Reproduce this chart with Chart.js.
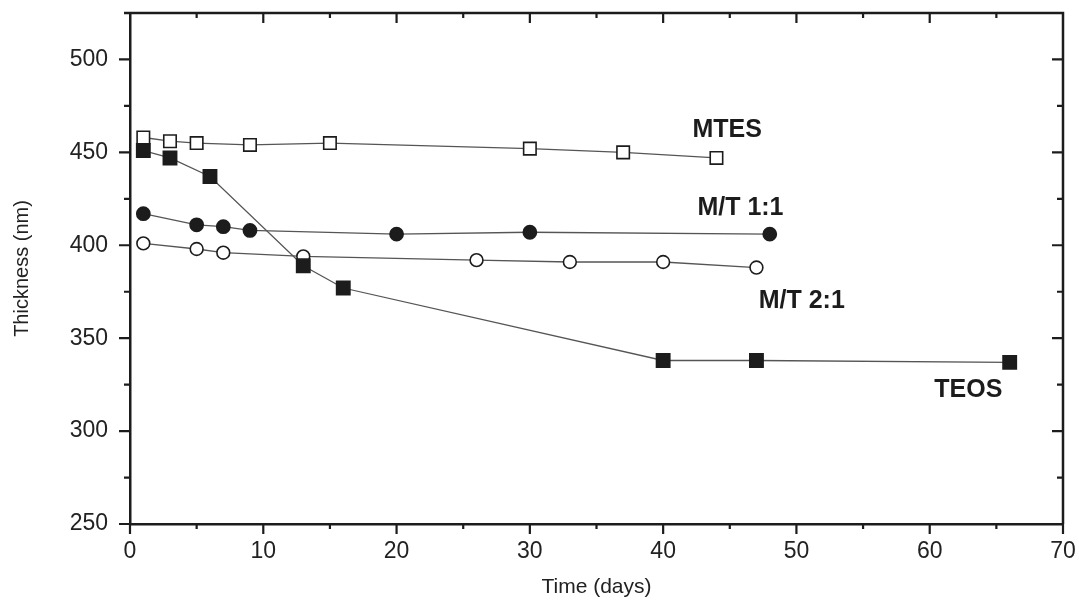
<!DOCTYPE html>
<html>
<head>
<meta charset="utf-8">
<script src="https://cdn.jsdelivr.net/npm/chart.js@4/dist/chart.umd.min.js"></script>
<style>
  html, body { margin: 0; padding: 0; background: #fff; }
  canvas { display: block; }
</style>
</head>
<body>
<canvas id="grafico" width="1079" height="600"></canvas>
<script>
// Datos (días, espesor en nm)
const mtesDias = [1, 3, 5, 9, 15, 30, 37, 44];
const mtesEspesor = [458, 456, 455, 454, 455, 452, 450, 447];

const teosDias = [1, 3, 6, 13, 16, 40, 47, 66];
const teosEspesor = [451, 447, 437, 389, 377, 338, 338, 337];

const mt11Dias = [1, 5, 7, 9, 20, 30, 48];
const mt11Espesor = [417, 411, 410, 408, 406, 407, 406];

const mt21Dias = [1, 5, 7, 13, 26, 33, 40, 47];
const mt21Espesor = [401, 398, 396, 394, 392, 391, 391, 388];

const etiquetasSeries = ['MTES', 'M/T 1:1', 'M/T 2:1', 'TEOS'];

const tinta = '#1c1c1c';
const fuente = '"Liberation Sans", Arial, sans-serif';

function puntos(xs, ys) {
    return xs.map((x, i) => ({ x: x, y: ys[i] }));
}

function serie(nombre, xs, ys, estilo, relleno, radio) {
    return {
        label: nombre,
        data: puntos(xs, ys),
        borderColor: '#555',
        borderWidth: 1.3,
        pointStyle: estilo,
        pointRadius: radio,
        pointBackgroundColor: relleno,
        pointBorderColor: tinta,
        pointBorderWidth: 1.6,
        tension: 0
    };
}

// Rótulos de las series, anclados en coordenadas de datos
const posRotulos = [
    { x: 44.8, y: 458 },
    { x: 45.8, y: 416.5 },
    { x: 50.4, y: 366.4 },
    { x: 62.9, y: 318.4 }
];

const rotulos = {
    id: 'rotulos',
    afterDatasetsDraw(chart) {
        const { ctx, scales } = chart;
        ctx.save();
        ctx.fillStyle = tinta;
        ctx.font = 'bold 25px ' + fuente;
        ctx.textAlign = 'center';
        ctx.textBaseline = 'alphabetic';
        etiquetasSeries.forEach((t, i) => {
            const p = posRotulos[i];
            ctx.fillText(t, scales.x.getPixelForValue(p.x), scales.y.getPixelForValue(p.y));
        });
        ctx.restore();
    }
};

// Marco superior/derecho y marcas de graduación en los cuatro lados
const marco = {
    id: 'marco',
    afterDraw(chart) {
        const { ctx, chartArea: a, scales } = chart;
        ctx.save();
        ctx.strokeStyle = tinta;
        ctx.lineWidth = 2.5;
        ctx.beginPath();
        ctx.moveTo(a.left - 6, a.top);
        ctx.lineTo(a.right, a.top);
        ctx.lineTo(a.right, a.bottom);
        ctx.stroke();

        ctx.lineWidth = 2.2;
        ctx.beginPath();
        scales.x.ticks.forEach(t => {
            const px = scales.x.getPixelForValue(t.value);
            const mayor = t.value % 10 === 0;
            const l = mayor ? 10 : 5;
            ctx.moveTo(px, a.bottom);
            ctx.lineTo(px, a.bottom + l);
            if (t.value > 0 && t.value < 70) {
                ctx.moveTo(px, a.top);
                ctx.lineTo(px, a.top + l);
            }
        });
        scales.y.ticks.forEach(t => {
            const py = scales.y.getPixelForValue(t.value);
            const mayor = t.value % 50 === 0;
            const l = mayor ? 11 : 6;
            ctx.moveTo(a.left, py);
            ctx.lineTo(a.left - l, py);
            if (t.value > 250) {
                ctx.moveTo(a.right, py);
                ctx.lineTo(a.right - l, py);
            }
        });
        ctx.stroke();
        ctx.restore();
    }
};

new Chart(document.getElementById('grafico'), {
    type: 'line',
    data: {
        datasets: [
            serie('MTES', mtesDias, mtesEspesor, 'rect', '#fff', 8.8),
            serie('TEOS', teosDias, teosEspesor, 'rect', tinta, 9.4),
            serie('M/T 1:1', mt11Dias, mt11Espesor, 'circle', tinta, 6.6),
            serie('M/T 2:1', mt21Dias, mt21Espesor, 'circle', '#fff', 6.4)
        ]
    },
    options: {
        responsive: false,
        animation: false,
        devicePixelRatio: 1,
        layout: { padding: { left: 0, right: 16, top: 13, bottom: 0 } },
        plugins: {
            legend: { display: false },
            tooltip: { enabled: false }
        },
        scales: {
            x: {
                type: 'linear',
                min: 0,
                max: 70,
                afterFit: s => { s.height = 76; s.paddingLeft = 0; s.paddingRight = 0; },
                ticks: {
                    stepSize: 5,
                    autoSkip: false,
                    maxRotation: 0,
                    padding: 4,
                    color: '#222',
                    font: { family: fuente, size: 23 },
                    callback: v => (v % 10 === 0 ? v : '')
                },
                grid: { drawOnChartArea: false, tickLength: 10, tickColor: 'transparent' },
                border: { color: tinta, width: 2.5 },
                title: {
                    display: true,
                    text: 'Time (days)',
                    color: '#222',
                    font: { family: fuente, size: 21 },
                    padding: { top: 0, bottom: 0 }
                }
            },
            y: {
                type: 'linear',
                min: 250,
                max: 525,
                // ancho fijo y sin relleno extra arriba/abajo
                afterFit: s => { s.width = 130; s.paddingTop = 0; s.paddingBottom = 0; },
                afterBuildTicks: s => { s.ticks = s.ticks.filter(t => t.value < 525); },
                ticks: {
                    stepSize: 25,
                    autoSkip: false,
                    padding: 11,
                    color: '#222',
                    font: { family: fuente, size: 23 },
                    callback: v => (v % 50 === 0 ? v : '')
                },
                grid: { drawOnChartArea: false, tickLength: 11, tickColor: 'transparent' },
                border: { color: tinta, width: 2.5 },
                title: {
                    display: true,
                    text: 'Thickness (nm)',
                    color: '#222',
                    font: { family: fuente, size: 20 },
                    padding: { top: 10, bottom: 0 }
                }
            }
        }
    },
    plugins: [rotulos, marco]
});
</script>
</body>
</html>
